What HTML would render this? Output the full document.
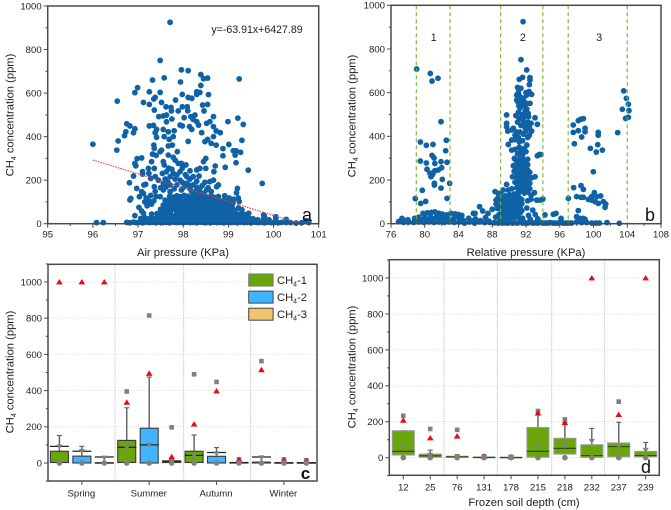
<!DOCTYPE html>
<html>
<head>
<meta charset="utf-8">
<style>
html,body{margin:0;padding:0;background:#fff;}
svg{display:block;font-family:"Liberation Sans",sans-serif;}
</style>
</head>
<body>
<svg id="fig" width="671" height="510" viewBox="0 0 671 510" xmlns="http://www.w3.org/2000/svg"></svg>
<script>
// ---------- Panel a ----------
const airTicksX = [95, 96, 97, 98, 99, 100, 101];
const ch4Ticks = [0, 200, 400, 600, 800, 1000];
const trendSlope = -63.91;
const trendIntercept = 6427.89;
const trendRange = [96, 100.6];
const airSamples = [
[96,365],[96.08,5],[96.23,5],[96.53,338],[96.54,563],[96.56,380],[96.7,404],[96.73,422],[96.75,459],[96.82,449],[96.9,418],[96.93,436],[96.93,602],[96.99,625],[96.93,277],[96.98,299],[96.95,266],[97.08,302],[97.12,557],[97.25,606],[97.25,548],[97.32,660],[97.25,449],[97.34,452],[97.35,573],[97.38,580],[97.36,522],[97.41,433],[97.38,418],[97.41,397],[97.49,603],[97.49,750],[97.52,557],[97.46,492],[97.56,495],[97.58,670],[97.71,925],[97.62,537],[97.73,534],[97.74,518],[97.63,499],[97.75,481],[97.63,468],[97.56,433],[97.58,400],[97.67,422],[97.69,387],[97.78,400],[97.8,427],[97.67,357],[97.76,361],[97.83,568],[97.89,518],[97.94,651],[97.96,707],[97.98,594],[97.98,537],[98.02,487],[97.93,453],[97.98,449],[98.11,703],[98.11,580],[98.19,576],[98.09,537],[98.1,519],[98.17,492],[98.26,499],[98.22,479],[98.14,446],[98.19,433],[98.11,378],[98.3,606],[98.37,603],[98.3,594],[98.39,685],[98.45,666],[98.54,669],[98.39,635],[98.43,545],[98.54,548],[98.56,593],[98.46,518],[98.3,469],[98.34,453],[98.41,418],[98.48,377],[98.54,387],[98.52,461],[98.59,469],[98.67,492],[98.67,446],[98.67,400],[98.73,426],[98.82,418],[98.62,369],[98.73,361],[98.99,469],[99.01,364],[99.24,665],[99.21,485],[99.33,456],[99.3,383],[99.11,335],[99.17,335],[99.15,315],[99.27,328],[99.17,280],[99.44,246],[99.75,185],[98.88,345],[98.88,312],[98.93,259],[99.2,162],[99.18,142],
[97.35,361],[97.36,346],[97.32,320],[97.4,314],[97.49,331],[97.52,338],[97.3,285],[97.23,254],[97.1,239],[97.1,228],[97.24,231],[97.36,254],[97.28,208],[97.38,216],[97.36,170],[97.13,178],[97.17,181],[97.12,139],[96.81,188],[96.9,219],[96.82,109],[96.84,116],[96.97,162],[97.03,124],[97.08,147],[96.93,37],[97.56,285],[97.58,270],[97.54,231],[97.63,239],[97.67,315],[97.78,305],[97.82,292],[97.87,331],[97.89,277],[97.96,277],[98.06,270],[98.15,243],[98.3,247],[98.37,254],[98.5,300],[98.45,285],[98.5,254],[98.71,265],[98.68,239],[98.67,200],[98.59,193],[98.78,178],[98.74,170],[98.48,190],[98.35,219],[98.22,216],[97.78,231],[97.86,224],[97.71,216],[97.93,200],[97.56,185],[97.71,178],[97.86,178],[98.08,185],[98.22,178],[98.37,162],[97.93,239],[98.08,216],[98.19,147],[98.52,155],[97.56,155],[97.71,147],[97.96,155],[98.37,139],[97.49,124],[97.18,118],[97.25,104],[97.3,90],[97.2,82],[97.12,48],[97.08,58],[97.38,148],[97.62,168],[97.8,160],[98.02,168],[98.15,160],[98.28,150],[98.45,140],[98.62,128],[98.78,125],[98.92,128],[99.02,118],[99.12,112],[99.22,118],[99.24,102],
[97.45,200],[97.6,205],[97.68,255],[97.75,250],[97.98,255],[98.05,225],[98.15,205],[98.3,195],[98.42,175],[98.55,165],[98.62,148],[97.5,165],[97.66,192],[97.82,205],[97.98,190],[98.12,178],[98.3,168],[97.28,130],[97.4,125],[97.15,100],[97.02,75],[97.35,105],
[96.75,6],[96.82,4],[96.9,7],[96.96,5],[97.02,6],[97.1,4],[97.17,7],[97.25,5],[97.32,6],[97.4,4],[97.48,7],[97.55,5],[97.62,6],[97.7,4],[97.78,7],[97.85,5],[97.92,6],[98,4],[98.08,7],[98.15,5],[98.22,6],[98.3,4],[98.38,7],[98.45,5],[98.52,6],[98.6,4],[98.68,7],[98.75,5],[98.82,6],[98.9,4],[98.98,7],[99.05,5],[99.12,6],[99.2,4],[99.28,7],[99.35,5],[99.42,6],[99.5,4],[99.58,7],[99.65,5],[99.72,6],[99.8,4],[99.88,7],[99.95,5],[100.02,6],[100.1,4],[100.18,6],[100.28,5],[100.38,5],[100.5,3],[100.62,4],[100.72,14],[100.78,5],
[97.06,24],[97.15,28],[97.22,22],[97.3,26],[97.38,24],[97.45,28],[97.52,22],[97.6,26],[97.68,24],[97.75,28],[97.82,22],[97.9,26],[97.98,24],[98.05,28],[98.12,22],[98.2,26],[98.28,24],[98.35,28],[98.42,22],[98.5,26],[98.58,24],[98.65,28],[98.72,22],[98.8,26],[98.88,24],[98.95,28],[99.02,22],[99.1,26],[99.18,24],[99.25,28],[99.32,22],[99.4,26],[99.48,24],[99.55,22],[99.65,18],[99.78,22],[99.9,18],[100.05,22],[100.05,32],[100.28,20],[99.78,40],[99.8,34],
[97.3,44],[97.42,46],[97.5,42],[97.58,48],[97.65,44],[97.72,46],[97.85,42],[97.92,48],[98,44],[98.08,46],[98.15,42],[98.22,48],[98.3,44],[98.38,46],[98.45,42],[98.52,48],[98.6,44],[98.68,46],[98.75,42],[98.82,48],[98.9,44],[98.98,46],[99.05,42],[99.12,48],[99.2,44],[99.28,46],[99.36,42],[99.45,48],
[97.5,66],[97.58,64],[97.66,68],[97.74,64],[97.82,66],[97.9,62],[97.98,68],[98.06,64],[98.14,66],[98.22,62],[98.3,68],[98.38,64],[98.46,66],[98.54,62],[98.62,68],[98.7,64],[98.78,66],[98.86,62],[98.94,68],[99.02,64],[99.1,66],[99.22,72],[99.3,64],
[97.56,86],[97.64,84],[97.72,88],[97.8,84],[97.88,86],[97.96,82],[98.04,88],[98.12,84],[98.2,86],[98.28,82],[98.36,88],[98.44,84],[98.52,86],[98.6,82],[98.68,88],[98.76,84],[98.84,86],[98.92,82],[99,88],[99.08,84],
[97.6,108],[97.68,104],[97.76,110],[97.84,106],[97.92,108],[98,104],[98.08,110],[98.16,106],[98.24,108],[98.32,104],[98.4,110],[98.48,106],[98.56,108],[98.64,104],[98.72,110],[98.8,106],[98.9,108],[99,104],
[97.7,126],[97.78,122],[97.86,128],[97.94,124],[98.02,130],[98.1,126],[98.18,122],[98.26,128],[98.34,124],[98.42,120],[98.5,126],[98.58,122],[98.7,120],
[97.2,14],[97.34,16],[97.48,15],[97.6,14],[97.74,16],[97.88,15],[98.02,14],[98.16,16],[98.3,15],[98.44,14],[98.58,16],[98.72,15],[98.86,14],[99,16],[99.14,15],[99.3,14],[99.46,15],[99.62,12],
[97.46,35],[97.62,36],[97.78,34],[97.94,36],[98.1,35],[98.26,34],[98.42,36],[98.58,35],[98.74,34],[98.9,36],[99.06,35],[99.22,34],[99.38,36],
[97.54,55],[97.7,56],[97.86,54],[98.02,56],[98.18,55],[98.34,54],[98.5,56],[98.66,55],[98.82,54],[98.98,56],[99.14,55],
[97.62,75],[97.78,76],[97.94,74],[98.1,76],[98.26,75],[98.42,74],[98.58,76],[98.74,75],[98.9,74],[99.06,76],
[97.66,96],[97.82,95],[97.98,97],[98.14,95],[98.3,96],[98.46,97],[98.62,95],[98.78,96],[98.94,95],[99.1,97]
];

// ---------- Panel b ----------
const relTicksX = [76, 80, 84, 88, 92, 96, 100, 104, 108];
const zoneBoundaries = [79, 83, 89, 94, 97, 104];
const zoneNames = ["1", "2", "3"];
const relSamples = [
[79.04,708],[80.66,688],[80.86,653],[81.57,666],[81.93,467],[79.48,374],[80.19,359],[80.98,363],[82.56,382],[82.48,334],[80.86,313],[81.1,301],[79.48,287],[80.19,278],[81.2,276],[81.93,284],[82.64,281],[80.27,249],[82,256],[81.6,246],[81.2,243],[80.62,231],[81.02,234],[80.74,215],[80.9,223],[82.08,203],[82.95,185],[81.14,185],[81.14,177],[81.93,163],[79.71,153],[78.88,115],[82.64,116],[80.11,102],[79.52,93],
[86.5,78],[86.87,58],[85.96,47],[85.76,47],[88,66],[87.5,47],[87.2,28],[86,22],[85.2,25],[84.4,38],[84,42],[83.6,45],[83.1,48],[82.6,40],[82.1,44],[81.7,48],[81.2,54],[80.8,52],[80.3,50],[79.8,47],[79.3,30],[78.8,25],[78,18],[77.3,24],[77.6,14],[80,28],[80.7,30],[81.4,32],[82,26],[82.8,28],[83.5,26],[84.1,24],[79.5,20],[79,14],[80.4,18],[81,20],[81.7,18],[82.4,20],[83.2,16],[84.6,14],[85.6,12],[86.6,14],[87.6,12],[88.4,30],[88.8,42],
[76.9,10],[77.5,6],[78.1,8],[78.7,6],[79.3,8],[79.9,6],[80.5,8],[81.1,6],[81.7,8],[82.3,6],[82.9,8],[83.5,6],[84.1,8],[84.7,3],[85.3,8],[85.9,3],[86.5,8],[87.1,5],[87.7,6],[88.3,5],[88.9,8],[89.5,4],[90.1,8],[90.7,4],[91.3,8],[91.9,4],[92.5,6],[93.1,4],[93.7,6],[94.3,3],[94.9,5],[95.5,3],[96.1,5],[96.7,3],[97.4,3],[98,8],[98.6,5],[99.2,5],[99.8,3],[100.3,3],[100.7,3],
[88.33,147],[88.7,139],[88.45,108],[88.45,90],[89.3,154],[89.7,180],[89.9,154],[90.3,160],[90.7,190],[88.9,125],[89,108],[89,90],[89.1,72],[89.1,55],[89.1,38],[89.1,22],[89.6,128],[89.6,110],[89.6,92],[89.6,74],[89.6,56],[89.6,38],[89.6,20],[90.1,132],[90.1,114],[90.1,96],[90.1,78],[90.1,60],[90.1,42],[90.1,24],[90.6,136],[90.6,118],[90.6,100],[90.6,82],[90.6,64],[90.6,46],[90.6,28],[91.1,138],[91.1,120],[91.1,102],[91.1,84],[91.1,66],[91.1,48],[91.1,30],[91.5,110],[91.5,92],[91.5,60],[91.6,25],[92.1,72],[92.3,38],[92.5,20],[92.8,62],[93.1,42],[93.4,22],[92.2,105],[92.6,112],
[91.3,150],[91.3,175],[91.3,200],[91.3,225],[91.3,250],[91.3,275],[91.3,300],[91.8,140],[91.8,165],[91.8,190],[91.8,215],[91.8,240],[91.8,265],[91.8,290],[90.8,215],[90.8,240],[90.8,265],[90.8,290],[92.2,145],[92.2,170],[92.2,195],[92.2,220],[92.2,245],[92.2,270],[92.2,295],[91,320],[91.4,335],[91.8,345],[92.1,360],[91.6,380],[91.1,395],[90.9,420],[91.3,420],[91.7,410],[92,425],[92.4,440],[91.4,450],[91,465],[91.7,470],[92.2,465],[91.5,500],[91.1,510],[91.9,515],[92.3,490],[91.3,530],[91.7,540],[92.1,525],
[89.7,498],[89.7,460],[89.7,444],[89.83,424],[90.3,429],[90.5,437],[89.9,363],[90.3,383],[90.3,337],[90.7,406],[90.62,299],[90.9,566],[91,624],[91.1,601],[91.2,661],[91.6,670],[91.4,751],[91.65,925],[92.08,704],[92.47,669],[92.47,658],[92.4,637],[90.9,589],[91.3,582],[91.7,574],[92.08,589],[92.36,605],[92.67,592],[92.47,551],[93.07,485],[93.35,455],[92.6,460],[92.67,424],[93.35,311],[93.58,317],[93.78,317],[93.07,215],[92.67,210],[93,142],[93.27,108],[94,113],[93.66,108],[94.25,40],[95.24,43],[95.56,47],[96.15,24],
[97.02,116],[97.65,165],[97.6,452],[97.6,418],[97.73,366],[98.2,426],[98.2,472],[98.48,478],[98.8,481],[99,437],[99,421],[98.6,397],[99.63,345],[100.33,328],[100.5,362],[100.56,418],[100.56,405],[101.05,337],[102.87,417],[103.42,524],[103.58,608],[103.9,574],[104.13,547],[104.2,518],[103.8,482],[104.13,487],[99.98,238],[98.52,174],[98.8,157],[98,124],[98.52,121],[98.8,121],[99.4,111],[99.78,124],[100.1,142],[100.38,124],[100.85,127],[100.18,101],[100.57,93],[101.17,101],[101.45,90],[101.37,75],[99.78,108],[98.2,60],[98,32],[98.4,24],[98.8,24],[99,20],[101.6,5],[103.06,2],
[89.35,120],[89.35,100],[89.35,82],[89.35,64],[89.35,46],[89.35,28],[89.85,120],[89.85,102],[89.85,84],[89.85,66],[89.85,48],[89.85,30],[90.35,124],[90.35,106],[90.35,88],[90.35,70],[90.35,52],[90.35,34],[90.85,126],[90.85,108],[90.85,90],[90.85,72],[90.85,54],[90.85,36],[91.3,115],[91.3,96],[91.3,76],[91.3,50],[88.9,20],[88.6,70],[88.7,120],[89,140],
[90.9,165],[90.6,240],[90.5,265],[90.4,215],[91.05,190],[91.05,215],[91.05,240],[91.05,265],[91.05,290],[91.55,155],[91.55,180],[91.55,205],[91.55,230],[91.55,255],[91.55,280],[91.55,305],[92,155],[92,180],[92,205],[92,230],[92,255],[92,280],[92.45,160],[92.45,185],[92.45,235],[92.6,130],[91,140],[90.7,120],
[90.7,340],[91.2,350],[91.6,315],[92,330],[91.2,375],[90.7,385],[92.2,395],[92.4,405],[91.9,440],[91.2,480],[90.8,495],[91.8,490],[92,460],[91.15,540],[91,560],[91.55,560],[91.85,555],[92.1,550],[92.25,505],[92,600],[91.4,620],
[88.2,4],[88.7,3],[89.2,3],[89.8,3],[90.4,3],[91,3],[91.6,3],[92.2,3],[92.8,3],[93.4,3],[94,3],[94.6,3],[95.2,3],[95.8,3],[96.4,3],[97,3]
];

// ---------- Panel c ----------
const boxTicksY = [0, 200, 400, 600, 800, 1000];
const seasons = ["Spring", "Summer", "Autumn", "Winter"];
const seriesNames = ["CH4-1", "CH4-2", "CH4-3"];
const seasonQ1 = [3,0,0, 3,0,3, 3,0,0, 0,0,0];
const seasonQ3 = [65,38,2, 125,192,12, 65,37,3, 5,2,2];
const seasonMedian = [92,65,33, 87,100,8, 42,58,2, 33,1,1];
const seasonWhisker = [152,92,33, 305,475,20, 155,85,5, 33,3,3];
const seasonTri = [90,65,28, 85,100,10, 40,52,5, 30,6,5];
const seasonSquare = [null,null,null, 395,815,197, 490,448,20, 563,20,15];
const seasonMax = [1000,1000,1000, 335,495,35, 215,398,18, 515,15,12];

// ---------- Panel d ----------
const depths = ["12","25","76","131","178","215","218","232","237","239"];
const depthQ1 = [15,3,2,0,0,3,20,2,5,5];
const depthQ3 = [150,20,8,3,2,168,108,72,82,35];
const depthMedian = [35,10,5,2,1,35,52,12,62,12];
const depthWhisker = [150,42,10,3,2,240,195,163,197,85];
const depthTri = [70,15,8,3,2,70,62,92,60,42];
const depthSquare = [233,160,155,8,5,260,213,null,312,null];
const depthMax = [208,110,120,8,5,248,195,1000,240,1000];

// ---------- helpers ----------
const NS = "http://www.w3.org/2000/svg";
const fig = document.getElementById("fig");
const FRAME = "#4a4a4a";
function add(parent, tag, attrs, text) {
  const e = document.createElementNS(NS, tag);
  for (const k in attrs) e.setAttribute(k, attrs[k]);
  if (text !== undefined) e.textContent = text;
  parent.appendChild(e);
  return e;
}
function linear(d0, d1, r0, r1) { return v => r0 + (v - d0) * (r1 - r0) / (d1 - d0); }

function yTitle(g, cx, cy) {
  const t = add(g, "text", {transform:"translate("+cx+","+cy+") rotate(-90)", "text-anchor":"middle", "font-size":"11.2", fill:"#222"});
  
  
  add(t, "tspan", {}, "CH");
  add(t, "tspan", {"font-size":"7", dy:"2.5"}, "4");
  add(t, "tspan", {dy:"-2.5"}, " concentration (ppm)");
}
function xTitle(g, cx, by, s) {
  const t = add(g, "text", {x:cx, y:by, "text-anchor":"middle", "font-size":"11.2", fill:"#222"}, s);
  
  
}
function yAxis(g, sy, left, right, ticks, minorStep, lo, hi, grid) {
  for (let v = lo; v <= hi; v += minorStep) {
    const major = ticks.indexOf(v) >= 0;
    const tick = add(g, "line", {x1:left - (major ? 4 : 2.2), x2:left, y1:sy(v), y2:sy(v), stroke:FRAME, "stroke-width":"1"});
    
    
    if (major && grid) {
      const gl = add(g, "line", {x1:left, x2:right, y1:sy(v), y2:sy(v), stroke:"#d6d6d6", "stroke-width":"0.8", "stroke-dasharray":"1 1.5"});
      
      
    }
  }
  ticks.forEach(v => {
    const lab = add(g, "text", {x:left - 6, y:sy(v) + 3.4, "text-anchor":"end", "font-size":"9.6", fill:"#222"}, String(v));
    
    
  });
}
function frame(g, l, t, r, b) {
  const fr = add(g, "rect", {x:l, y:t, width:r - l, height:b - t, fill:"none", stroke:FRAME, "stroke-width":"1.5"});
  
  
}
function scatterPanel(name, samples, sx, sy) {
  const layer = add(fig, "g", {fill:"#0f62a6"});
  
  
  samples.forEach(p => {
    const c = add(layer, "circle", {cx:sx(p[0]).toFixed(2), cy:sy(p[1]).toFixed(2), r:"2.9"});
    
    
  });
}
function xNumericAxis(g, sx, bottom, ticks, minorStep) {
  ticks.forEach((v, i) => {
    const tick = add(g, "line", {x1:sx(v), x2:sx(v), y1:bottom, y2:bottom + 4, stroke:FRAME, "stroke-width":"1"});
    
    
    if (i < ticks.length - 1) {
      const mid = v + minorStep;
      const mn = add(g, "line", {x1:sx(mid), x2:sx(mid), y1:bottom, y2:bottom + 2.2, stroke:FRAME, "stroke-width":"1"});
      
      
    }
    const lab = add(g, "text", {x:sx(v), y:bottom + 14, "text-anchor":"middle", "font-size":"9.6", fill:"#222"}, String(v));
    
    
  });
}
function triangle(g, x, y, size, up, fill, name) {
  const h = size, w = size * 0.62;
  const pts = up
    ? [[x, y - h * .55], [x - w, y + h * .45], [x + w, y + h * .45]]
    : [[x, y + h * .55], [x - w, y - h * .45], [x + w, y - h * .45]];
  const p = add(g, "polygon", {points:pts.map(a => a[0].toFixed(2) + "," + a[1].toFixed(2)).join(" "), fill:fill});
  
  
}
function drawBox(g, x, w, sy, q1, q3, med, whisk, tri, sq, max, fill, stroke, medColor, lineW) {
  const wh = add(g, "line", {x1:x, x2:x, y1:sy(q3), y2:sy(whisk), stroke:"#5e5e5e", "stroke-width":"1.4"});
  
  
  const cap = add(g, "line", {x1:x - 2.5, x2:x + 2.5, y1:sy(whisk), y2:sy(whisk), stroke:"#5e5e5e", "stroke-width":"1.1"});
  
  
  const box = add(g, "rect", {x:x - w / 2, y:sy(q3), width:w, height:Math.max(0.6, sy(q1) - sy(q3)), fill:fill, stroke:stroke, "stroke-width":"1.1"});
  
  
  const ml = add(g, "line", {x1:x - lineW / 2, x2:x + lineW / 2, y1:sy(med), y2:sy(med), stroke:medColor, "stroke-width":"1.2"});
  
  
  triangle(g, x, sy(tri), 5, false, "#808080", "mean-marker");
  if (sq !== null) {
    const s = add(g, "rect", {x:x - 2.3, y:sy(sq) - 2.3, width:4.6, height:4.6, fill:"#808080"});
    
    
  }
  triangle(g, x, sy(max), 5.4, true, "#ea0a14", "max-marker");
  const c = add(g, "circle", {cx:x, cy:sy(0), r:"2.8", fill:"#808080"});
  
  
}

// ---------- draw panel a ----------
{
  const sx = linear(95, 101, 47.7, 318.7), sy = linear(0, 1000, 223.7, 6);
  const g = add(fig, "g", {});
  
  
  scatterPanel('air-pressure-scatter', airSamples, sx, sy);
  const tr = add(fig, "line", {x1:sx(trendRange[0]), y1:sy(trendSlope * trendRange[0] + trendIntercept), x2:sx(trendRange[1]), y2:sy(Math.max(0, trendSlope * trendRange[1] + trendIntercept)), stroke:"#f0353f", "stroke-width":"1", "stroke-dasharray":"1.6 1"});
  
  
  const f = add(fig, "g", {});
  frame(f, 47.7, 6, 318.7, 223.7);
  yAxis(f, sy, 47.7, 318.7, ch4Ticks, 100, 0, 1000, false);
  xNumericAxis(f, sx, 223.7, airTicksX, 0.5);
  yTitle(f, 13.5, 115);
  xTitle(f, 183, 256, "Air pressure (KPa)");
  const eq = add(f, "text", {x:257, y:33, "text-anchor":"middle", "font-size":"10.6", fill:"#222"}, "y=-63.91x+6427.89");
  
  
  const pl = add(f, "text", {x:307, y:221, "text-anchor":"middle", "font-size":"18", fill:"#111"}, "a");
  
  
}

// ---------- draw panel b ----------
{
  const sx = linear(76, 108, 391, 661), sy = linear(0, 1000, 223.7, 5.3);
  scatterPanel('relative-pressure-scatter', relSamples, sx, sy);
  const f = add(fig, "g", {});
  
  
  zoneBoundaries.forEach(v => {
    const l = add(f, "line", {x1:sx(v), x2:sx(v), y1:5.3, y2:223.7, stroke:"#7db22f", "stroke-width":"1.1", "stroke-dasharray":"4 3"});
    
    
  });
  const zoneCenters = [[zoneBoundaries[0], zoneBoundaries[1]], [zoneBoundaries[2], zoneBoundaries[3]], [zoneBoundaries[4], zoneBoundaries[5]]];
  zoneNames.forEach((n, i) => {
    const mid = (zoneCenters[i][0] + zoneCenters[i][1]) / 2;
    const lab = add(f, "text", {x:sx(mid) + (i === 0 ? 0.5 : i === 1 ? 1 : 1.5), y:41, "text-anchor":"middle", "font-size":"10.6", fill:"#222"}, n);
    
    
  });
  frame(f, 391, 5.3, 661, 223.7);
  yAxis(f, sy, 391, 661, ch4Ticks, 100, 0, 1000, false);
  xNumericAxis(f, sx, 223.7, relTicksX, 2);
  yTitle(f, 355.5, 116);
  xTitle(f, 526, 256, "Relative pressure (KPa)");
  const pl = add(f, "text", {x:650, y:221, "text-anchor":"middle", "font-size":"18", fill:"#111"}, "b");
  
  
}

// ---------- draw panel c ----------
{
  const sy = linear(0, 1000, 463, 282);
  const boxX = i => 59.4 + i * 22.45;
  const fills = ["#6aa60a", "#41b4ff", "#efc46c"];
  const g = add(fig, "g", {});
  
  
  yAxis(g, sy, 48, 317, boxTicksY, 100, -100, 1100, true);
  [115, 183.7, 250.7].forEach(x => {
    const s = add(g, "line", {x1:x, x2:x, y1:264.3, y2:481, stroke:"#b5b5b5", "stroke-width":"0.9", "stroke-dasharray":"1.2 1.2"});
    
    
  });
  seasonQ1.forEach((q1, i) => {
    drawBox(g, boxX(i), 18, sy, q1, seasonQ3[i], seasonMedian[i], seasonWhisker[i], seasonTri[i], seasonSquare[i], seasonMax[i], fills[i % 3], "#3a3a3a", "#222", 19);
  });
  frame(g, 48, 264.3, 317, 481);
  seasons.forEach((s, i) => {
    const x = boxX(i * 3 + 1);
    const tick = add(g, "line", {x1:x, x2:x, y1:481, y2:485, stroke:FRAME, "stroke-width":"1"});
    
    
    const lab = add(g, "text", {x:x - 0.5, y:496.5, "text-anchor":"middle", "font-size":"9.6", fill:"#222"}, s);
    
    
  });
  yTitle(g, 13.5, 372);
  const pl = add(g, "text", {x:305.5, y:479, "text-anchor":"middle", "font-size":"17", "font-weight":"bold", fill:"#111"}, "c");
  
  
  seriesNames.forEach((n, i) => {
    const y0 = 274 + i * 17.1;
    const sw = add(g, "rect", {x:248.7, y:y0, width:24.4, height:12, fill:fills[i], stroke:i === 0 ? "#777" : "#444", "stroke-width":"1"});
    
    
    const t = add(g, "text", {x:277, y:y0 + 10, "font-size":"11.2", fill:"#222"});
    
    
    add(t, "tspan", {}, n.slice(0, 2));
    add(t, "tspan", {"font-size":"7", dy:"2.5"}, n.slice(2, 3));
    add(t, "tspan", {dy:"-2.5"}, n.slice(3));
  });
}

// ---------- draw panel d ----------
{
  const sy = linear(0, 1000, 457.7, 278);
  const boxX = i => 403.3 + i * 26.93;
  const g = add(fig, "g", {});
  
  
  yAxis(g, sy, 389.3, 659.3, boxTicksY, 100, -100, 1100, true);
  [444, 497.3, 551.7, 604.7].forEach(x => {
    const s = add(g, "line", {x1:x, x2:x, y1:259.7, y2:475.3, stroke:"#b5b5b5", "stroke-width":"0.9", "stroke-dasharray":"1.2 1.2"});
    
    
  });
  depthQ1.forEach((q1, i) => {
    drawBox(g, boxX(i), 22, sy, q1, depthQ3[i], depthMedian[i], depthWhisker[i], depthTri[i], depthSquare[i], depthMax[i], "#6aa60a", "#9a9a9a", "#2c4d06", 22);
  });
  frame(g, 389.3, 259.7, 659.3, 475.3);
  depths.forEach((d, i) => {
    const x = boxX(i);
    const tick = add(g, "line", {x1:x, x2:x, y1:475.3, y2:479.3, stroke:FRAME, "stroke-width":"1"});
    
    
    const lab = add(g, "text", {x:x, y:490.5, "text-anchor":"middle", "font-size":"9.6", fill:"#222"}, d);
    
    
  });
  yTitle(g, 355.5, 367);
  xTitle(g, 524, 506, "Frozen soil depth (cm)");
  const pl = add(g, "text", {x:646, y:473, "text-anchor":"middle", "font-size":"18", fill:"#111"}, "d");
  
  
}
</script>
</body>
</html>
